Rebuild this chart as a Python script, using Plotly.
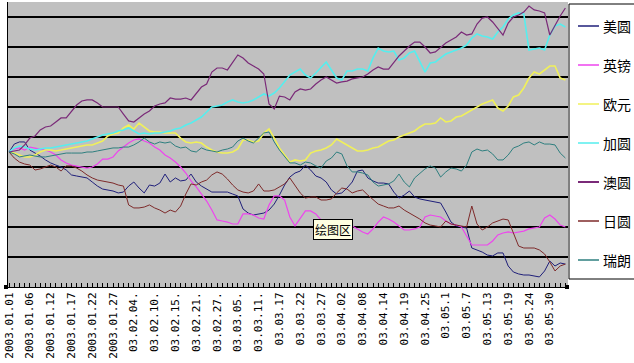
import plotly.graph_objects as go

# ---- data (percent change) ----
series_names = ["美圆", "英镑", "欧元", "加圆", "澳圆", "日圆", "瑞朗"]

usd = [0, 0.53, 0.67, 0.67, 0.13, -0.07, -0.27, -0.53, -0.73, -0.87,
       -1.0, -1.2, -1.53, -1.6, -1.67, -1.73, -2.0, -2.27, -2.47, -2.53,
       -2.6, -2.73, -2.67, -2.27, -2.0, -2.4, -2.73, -2.2, -2.27, -2.07,
       -1.47, -2.0, -1.73, -1.93, -1.87, -1.47, -2.0, -2.27, -2.47, -2.67,
       -2.67, -2.67, -2.67, -2.8, -2.93, -3.8, -4.07, -4.2, -4.13, -4.07,
       -3.87, -3.47, -2.87, -2.2, -1.67, -1.4, -1.27, -0.87, -1.2, -1.6,
       -1.73, -2.0, -2.53, -2.8, -2.73, -2.4, -2.0, -1.27, -1.2, -1.73,
       -1.93, -2.07, -2.07, -2.13, -2.67, -3.07, -2.87, -2.6, -3.0, -3.13,
       -3.2, -3.27, -3.33, -3.4, -4.0, -4.67, -4.93, -5.0, -5.07, -6.4,
       -6.53, -6.67, -6.87, -6.93, -6.73, -6.73, -7.6, -8.0, -8.13, -8.2,
       -8.2, -8.27, -8.33, -7.93, -7.27, -7.6, -7.4, -7.47]

gbp = [0, 0.2, 0.27, 0.13, 0.33, 0.27, 0.2, 0.13, 0, -0.2,
       -0.53, -0.73, -0.87, -0.93, -1.0, -1.07, -1.0, -0.8, -0.47, -0.47,
       -0.33, 0.07, 0.33, 0.6, 0.8, 0.87, 0.73, 0.6, 0.33, 0.13,
       -0.2, -0.4, -0.67, -1.0, -1.4, -1.93, -2.33, -2.8, -3.27, -3.87,
       -4.53, -4.6, -4.67, -4.8, -4.8, -4.13, -4.13, -4.2, -4.4, -4.47,
       -3.53, -2.93, -2.93, -3.2, -4.33, -4.93, -4.47, -3.93, -3.93, -4.13,
       -4.53, -4.73, -4.87, -4.87, -4.8, -4.73, -4.93, -5.13, -5.33, -5.47,
       -5.13, -4.67, -4.33, -4.47, -4.67, -4.93, -5.2, -5.2, -5.13, -5.0,
       -4.33, -4.2, -4.27, -4.33, -4.6, -4.8, -4.87, -5.0, -5.6, -6.2,
       -6.2, -6.2, -6.2, -5.93, -5.53, -5.4, -5.33, -5.4, -5.33, -5.27,
       -5.13, -5.07, -5.0, -4.4, -4.2, -4.47, -4.87, -5.0]

eur = [0, -0.07, -0.2, -0.33, -0.33, -0.2, 0, 0.13, 0.13, 0.07,
       0.13, 0.2, 0.27, 0.33, 0.4, 0.47, 0.47, 0.6, 0.73, 1.07,
       1.2, 1.27, 1.6, 1.8, 1.53, 1.93, 1.67, 1.4, 1.33, 1.33,
       1.27, 1.27, 1.27, 0.93, 0.67, 0.6, 0.67, 0.6, 0.33, 0.13,
       0, -0.07, -0.07, 0, 0.2, 0.8, 0.8, 0.67, 0.73, 1.27,
       1.53, 0.93, 0.27, -0.2, -0.67, -0.53, -0.6, -0.53, -0.07, 0.07,
       0.13, 0.27, 0.47, 0.87, 0.67, 0.47, 0.27, 0.07, 0.07, 0.13,
       0.27, 0.33, 0.53, 0.73, 0.8, 1.0, 1.13, 1.27, 1.4, 1.67,
       1.87, 1.87, 1.93, 2.27, 2.0, 2.07, 2.33, 2.4, 2.6, 2.8,
       3.0, 3.2, 3.33, 3.47, 2.93, 2.73, 3.07, 3.67, 3.8, 4.27,
       4.93, 5.33, 5.2, 5.47, 5.73, 5.73, 4.93, 4.8]

cad = [0, 0.27, 0.4, 0.33, 0.2, 0.13, 0.2, 0.27, 0.27, 0.33,
       0.4, 0.47, 0.53, 0.6, 0.67, 0.73, 0.87, 1.0, 1.13, 1.2,
       1.27, 1.4, 1.47, 1.6, 1.4, 1.2, 1.27, 1.2, 1.27, 1.27,
       1.33, 1.4, 1.53, 1.6, 1.8, 1.93, 2.13, 2.33, 2.67, 3.0,
       3.07, 3.13, 3.33, 3.47, 3.33, 3.27, 3.33, 3.47, 3.67, 3.87,
       3.73, 3.93, 4.27, 4.67, 5.13, 5.33, 5.53, 5.13, 4.93, 5.27,
       5.67, 6.0, 5.47, 4.93, 4.8, 5.4, 5.4, 5.53, 5.53, 5.4,
       6.27, 6.93, 6.73, 6.67, 6.73, 6.13, 6.27, 6.6, 6.73, 6.0,
       5.33, 5.93, 6.0, 6.27, 6.53, 6.67, 6.8, 6.93, 7.13, 7.6,
       7.87, 7.73, 7.67, 7.53, 8.0, 8.33, 8.87, 9.13, 9.27, 9.2,
       6.8, 6.87, 6.93, 6.8, 7.8, 8.4, 8.53, 8.33]

aud = [0, 0.07, 0.13, 0.47, 0.93, 1.07, 1.47, 1.67, 1.73, 2.0,
       2.27, 2.27, 2.67, 3.13, 3.4, 3.47, 3.47, 3.27, 3.0, 3.0,
       3.0, 3.0, 2.53, 2.07, 2.0, 2.27, 2.53, 2.73, 3.07, 3.2,
       3.27, 3.6, 3.53, 3.53, 3.6, 3.47, 3.87, 4.33, 4.53, 5.33,
       5.6, 5.6, 5.47, 6.0, 6.47, 6.27, 5.93, 5.73, 5.53, 5.2,
       3.2, 2.87, 3.73, 3.67, 3.47, 4.0, 4.2, 4.13, 4.2, 4.53,
       4.8, 5.0, 4.8, 4.6, 4.67, 4.73, 4.87, 4.93, 5.0, 5.2,
       5.47, 5.67, 5.53, 5.53, 6.0, 6.4, 6.73, 7.07, 7.33, 7.33,
       7.0, 6.6, 6.67, 7.0, 7.27, 7.47, 7.67, 8.0, 7.8, 7.87,
       8.53, 8.93, 9.0, 8.67, 8.2, 7.8, 8.6, 9.0, 9.13, 9.33,
       9.73, 9.47, 9.4, 9.27, 7.8, 8.47, 9.07, 9.6]

jpy = [0, -0.4, -0.67, -0.8, -0.87, -1.2, -1.13, -1.0, -0.87, -1.0,
       -1.27, -0.93, -0.93, -1.07, -1.27, -1.53, -1.73, -1.87, -1.93, -2.0,
       -2.07, -2.2, -2.27, -3.53, -3.73, -3.73, -3.67, -3.53, -3.73, -3.87,
       -4.07, -3.87, -4.0, -3.6, -2.8, -2.13, -2.2, -2.0, -1.87, -1.53,
       -1.33, -1.47, -1.8, -2.2, -2.53, -2.67, -2.73, -2.6, -2.13, -2.6,
       -2.6, -2.53, -2.33, -2.13, -1.73, -2.27, -2.73, -3.07, -3.0, -3.0,
       -3.2, -3.2, -3.13, -2.73, -2.4, -2.47, -2.73, -2.6, -2.53, -2.87,
       -3.2, -3.47, -3.6, -3.73, -3.73, -3.6, -3.87, -4.07, -4.27, -4.47,
       -4.73, -4.87, -4.93, -5.0, -4.6, -4.8, -4.87, -4.93, -5.0, -3.6,
       -4.8, -5.2, -5.0, -4.73, -4.6, -4.47, -4.53, -5.4, -6.27, -6.4,
       -6.4, -6.4, -6.53, -6.8, -7.33, -7.93, -7.6, -7.47]

chf = [0, -0.13, -0.33, -0.27, -0.2, -0.27, -0.33, -0.33, -0.27, -0.2,
       -0.13, -0.07, -0.07, -0.07, -0.07, 0, 0, 0.07, 0.13, 0.2,
       0.27, 0.27, 0.33, 0.33, 0.47, 0.67, 0.93, 0.67, 0.53, 0.67,
       0.6, 0.67, 0.4, 0.27, 0.33, 0.07, 0, 0.27, 0.13, 0.07,
       0, 0.13, 0.2, 0.33, 0.73, 0.93, 0.73, 0.6, 0.93, 1.27,
       1.33, 0.67, 0.13, -0.27, -0.73, -0.73, -0.87, -0.67, -0.73, -0.93,
       -1.07, -0.6, -0.4, 0, -0.13, -0.93, -1.33, -1.33, -1.4, -1.53,
       -2.0, -2.27, -2.2, -2.13, -1.93, -1.47, -2.0, -2.33, -1.73, -1.4,
       -1.13, -0.93, -1.07, -1.67, -1.33, -1.07, -1.13, -1.27, -0.87, 0,
       0.2, 0.07, 0.13, -0.13, -0.53, -0.53, -0.2, 0.27, 0.4, 0.6,
       0.67, 0.47, 0.67, 0.53, 0.53, 0.47, -0.07, -0.4]

tick_labels = ["2003.01.01", "2003.01.06", "2003.01.12", "2003.01.17", "2003.01.22",
               "2003.01.27", "03.02.04.", "03.02.10.", "03.02.15.", "03.02.21.",
               "03.02.27.", "03.03.05.", "03.03.11.", "03.03.17", "03.03.22",
               "03.03.27", "03.04.02", "03.04.08", "03.04.14", "03.04.19",
               "03.04.25", "03.05.1", "03.05.7", "03.05.13", "03.05.19",
               "03.05.24", "03.05.30"]
label_step = 4

colors = ["#1F1F7A", "#EE44EE", "#F0F05A", "#55EEEE", "#7A2A78", "#7E2A2A", "#2E7F7F"]
widths = [1, 1.2, 1.6, 1.6, 1.2, 1, 1]

all_series = [usd, gbp, eur, cad, aud, jpy, chf]
n = len(usd)
xs = list(range(n))

fig = go.Figure()
for name, vals, col, w in zip(series_names, all_series, colors, widths):
    fig.add_trace(go.Scatter(x=xs, y=vals, mode="lines", name=name,
                             line=dict(color=col, width=w), showlegend=False,
                             hoverinfo="skip"))

W, H = 634, 363
L, R, T, B = 8, 66, 2, 76
pw, ph = W - L - R, H - T - B


def px_x(p):
    return (p - L) / pw


def px_y(p):
    return (H - B - p) / ph


shapes = []
annotations = []
# legend box
shapes.append(dict(type="rect", xref="paper", yref="paper",
                   x0=px_x(569), x1=px_x(645), y0=px_y(279), y1=px_y(4),
                   fillcolor="white", line=dict(color="black", width=1), layer="above"))
for k, (name, col) in enumerate(zip(series_names, colors)):
    yy = px_y(26 + 39 * k)
    shapes.append(dict(type="line", xref="paper", yref="paper",
                       x0=px_x(578), x1=px_x(599), y0=yy, y1=yy,
                       line=dict(color=col, width=2 if k == 4 else 1.5)))
    annotations.append(dict(xref="paper", yref="paper", x=px_x(601), y=yy,
                            text=name, showarrow=False, xanchor="left", yanchor="middle",
                            font=dict(family="Noto Sans CJK SC", size=14, color="black")))

# selection handles of the plot area
for cx in (6, 567):
    shapes.append(dict(type="rect", xref="paper", yref="paper",
                       x0=px_x(cx - 2), x1=px_x(cx + 2), y0=px_y(289), y1=px_y(285),
                       fillcolor="black", line=dict(width=0)))

# tooltip
annotations.append(dict(xref="paper", yref="paper", x=px_x(313), y=px_y(229),
                        text="绘图区", showarrow=False, xanchor="left", yanchor="middle",
                        bgcolor="#FFFFE1", bordercolor="black", borderwidth=1, borderpad=1,
                        font=dict(family="Noto Sans CJK SC", size=12, color="black")))

fig.update_layout(
    width=W, height=H,
    margin=dict(l=L, r=R, t=T, b=B, autoexpand=False),
    paper_bgcolor="white", plot_bgcolor="#C0C0C0",
    shapes=shapes, annotations=annotations,
    showlegend=False, hovermode=False,
    xaxis=dict(range=[-0.2, n - 0.5], tickmode="array", automargin=False,
               tickvals=xs[::label_step], ticktext=tick_labels,
               tickangle=-90, tickfont=dict(family="DejaVu Sans Mono", size=11, color="black"),
               ticks="inside", ticklen=4, tickcolor="black",
               minor=dict(ticks="inside", dtick=1, tick0=0, ticklen=4, tickcolor="black"),
               showgrid=False, zeroline=False,
               showline=True, linecolor="black", linewidth=1),
    yaxis=dict(range=[-9, 10], tick0=1, dtick=2, showticklabels=False, automargin=False,
               showgrid=True, gridcolor="black", gridwidth=1.5, zeroline=False,
               showline=True, linecolor="black", linewidth=1, ticks=""),
)

fig.write_html("out.html", config={"displayModeBar": False, "staticPlot": True},
               post_script="document.body.style.margin='0';document.body.style.padding='0';")
